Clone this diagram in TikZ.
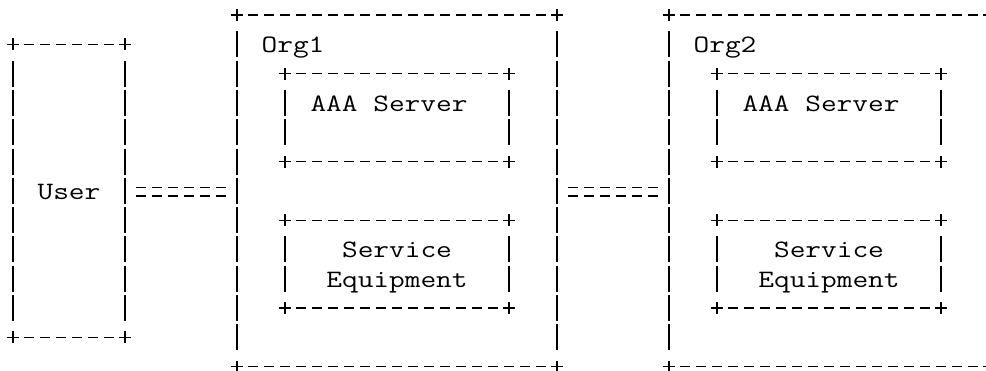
\documentclass[tikz,border=0pt]{standalone}
\usepackage{fontspec}
\newfontfamily\asciifont{Latin Modern Mono}[FakeStretch=1.219]

\begin{document}
\begin{tikzpicture}[x=16pt, y=-29.3pt, line width=1.1pt,
    hdash/.style={dash pattern=on 9.5pt off 6.5pt},
    vbar/.style={dash pattern=on 26pt off 3.3pt},
    eqs/.style={double, double distance=7.3pt, dash pattern=on 10pt off 6pt, shorten <=11pt, shorten >=11pt},
    lbl/.style={anchor=base, inner sep=0pt, yshift=-8.5pt, font=\asciifont\fontsize{25pt}{29.3pt}\selectfont},
    plus/.pic={\draw (-6pt,0)--(6pt,0) (0,-6pt)--(0,6pt);}]
    \useasboundingbox (-0.8125, -0.512) rectangle (60.8125, 12.116);
    % boxes: name/left/top/right/bottom in character cells
    \foreach \n/\a/\b/\c/\d in {user/0/1/7/11, org1/14/0/34/12, aaa1/17/2/31/5, se1/17/7/31/10,
                                org2/41/0/61/12, aaa2/44/2/58/5, se2/44/7/58/10}{
        \node[inner sep=0pt, outer sep=0pt, minimum width={(\c-\a)*16pt}, minimum height={(\d-\b)*29.3pt}]
            (\n) at ({(\a+\c)/2}, {(\b+\d)/2}){};
        \draw[hdash]([xshift=-4.75pt]{\a+1}, \b)--([xshift=4.75pt]{\c-1}, \b);
        \draw[hdash]([xshift=-4.75pt]{\a+1}, \d)--([xshift=4.75pt]{\c-1}, \d);
        \draw[vbar]([yshift=13pt]\a, {\b+1})--([yshift=-13pt]\a, {\d-1});
        \draw[vbar]([yshift=13pt]\c, {\b+1})--([yshift=-13pt]\c, {\d-1});
        \pic at(\a, \b){plus};
        \pic at(\c, \b){plus};
        \pic at(\a, \d){plus};
        \pic at(\c, \d){plus};
    }
    \node[lbl] (userlbl) at(3.5, 6){User};
    \node[lbl] (org1lbl) at(17.5, 1){Org1};
    \node[lbl] (aaa1lbl) at(23.5, 3){AAA Server};
    \node[lbl] (se1lbl) at(24, 8){Service};
    \node[lbl] (se1lblb) at(24, 9){Equipment};
    \node[lbl] (org2lbl) at(44.5, 1){Org2};
    \node[lbl] (aaa2lbl) at(50.5, 3){AAA Server};
    \node[lbl] (se2lbl) at(51, 8){Service};
    \node[lbl] (se2lblb) at(51, 9){Equipment};
    \draw[eqs]([yshift=-1pt]user.east)--([yshift=-1pt]org1.west);
    \draw[eqs]([yshift=-1pt]org1.east)--([yshift=-1pt]org2.west);
\end{tikzpicture}
\end{document}
